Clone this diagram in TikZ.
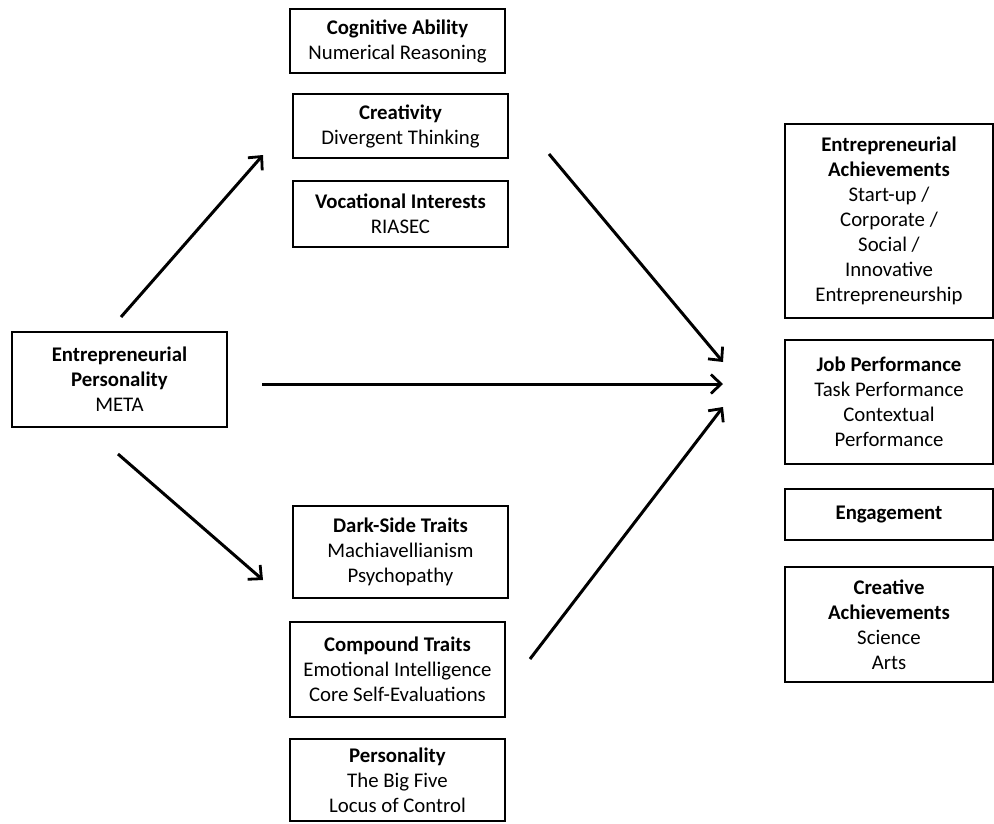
\documentclass[tikz,border=0pt]{standalone}
\usepackage{fontspec}
\setmainfont{Carlito}
\usetikzlibrary{arrows.meta}
\tikzset{
  x=1pt, y=-1pt,
  box/.style={draw=black, line width=2.6pt, inner sep=0pt, align=center,
    font=\fontsize{20.8}{25}\selectfont},
  link/.style={line width=3pt, -{Straight Barb[length=10pt,width=19pt,line width=2.8pt]}},
}
\begin{document}
\begin{tikzpicture}
\useasboundingbox (0,0) rectangle (994,823);

% centre column
\node[box, minimum width=215, minimum height=64] (cog) at (397.5,41)
  {\textbf{Cognitive Ability}\\Numerical Reasoning};
\node[box, minimum width=215, minimum height=64] (crea) at (400.5,126)
  {\textbf{Creativity}\\Divergent Thinking};
\node[box, minimum width=215, minimum height=66] (voc) at (400.5,214)
  {\textbf{Vocational Interests}\\RIASEC};
\node[box, minimum width=215, minimum height=92] (dark) at (400.5,552)
  {\textbf{Dark-Side Traits}\\Machiavellianism\\Psychopathy};
\node[box, minimum width=215, minimum height=95] (comp) at (397.5,669.5)
  {\textbf{Compound Traits}\\Emotional Intelligence\\Core Self-Evaluations};
\node[box, minimum width=215, minimum height=82] (pers) at (397.5,780)
  {\textbf{Personality}\\The Big Five\\Locus of Control};

% left
\node[box, minimum width=215, minimum height=95] (meta) at (119.5,379.5)
  {\textbf{Entrepreneurial}\\\textbf{Personality}\\META};

% right column
\node[box, minimum width=208, minimum height=194] (ent) at (889,221)
  {\textbf{Entrepreneurial}\\\textbf{Achievements}\\Start-up /\\Corporate /\\Social /\\Innovative\\Entrepreneurship};
\node[box, minimum width=208, minimum height=124] (job) at (889,402)
  {\textbf{Job Performance}\\Task Performance\\Contextual\\Performance};
\node[box, minimum width=208, minimum height=51] (eng) at (889,514.5)
  {\textbf{Engagement}};
\node[box, minimum width=208, minimum height=115] (cach) at (889,624.5)
  {\textbf{Creative}\\\textbf{Achievements}\\Science\\Arts};

% arrow end points
\coordinate (upS) at (121,317);
\coordinate (upE) at (263,155);
\coordinate (dnS) at (118,454);
\coordinate (dnE) at (263,580);
\coordinate (hzS) at (262,384);
\coordinate (hzE) at (723,384);
\coordinate (trS) at (549,154);
\coordinate (trE) at (723,362);
\coordinate (brS) at (530,659);
\coordinate (brE) at (723,407);

\draw[link] (upS) -- (upE);
\draw[link] (dnS) -- (dnE);
\draw[link] (hzS) -- (hzE);
\draw[link] (trS) -- (trE);
\draw[link] (brS) -- (brE);
\end{tikzpicture}
\end{document}
